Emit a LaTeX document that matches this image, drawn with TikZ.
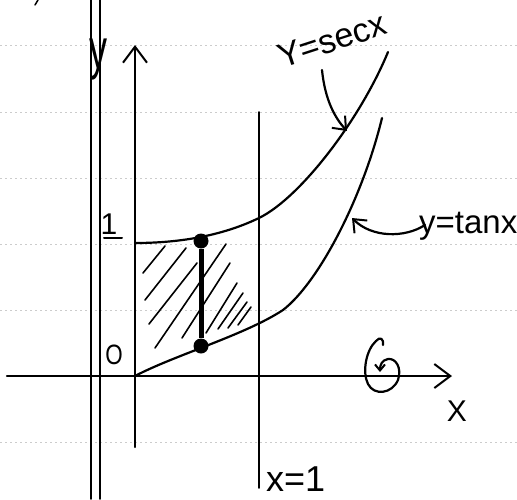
\documentclass[tikz,border=0pt]{standalone}
\usepackage{fontspec}
\setmainfont{Liberation Sans}
\usetikzlibrary{arrows.meta}
\begin{document}
\begin{tikzpicture}[x=1pt,y=-1pt,
  ink/.style={line width=2.2pt, line cap=round, line join=round},
  rule/.style={gray!40, line width=0.7pt, dash pattern=on 2pt off 3pt},
  barb/.style={-{Straight Barb[length=16pt,width=24pt,line width=2pt]}},
  smallbarb/.style={-{Straight Barb[length=11pt,width=18pt,line width=2pt]}},
  hand/.style={font=\fontsize{#1}{#1}\selectfont, inner sep=0pt},
  hatch/.style={line width=1.6pt, line cap=round},
  dot/.style={circle, fill=black, minimum size=15pt, inner sep=0pt}]
\useasboundingbox (0,0) rectangle (517,499);
\fill[white] (0,0) rectangle (517,499);
% notebook rules
\foreach \yy in {45,112,178,244,310,442}
  \draw[rule] (0,\yy) -- (517,\yy);
% margin lines
\draw[ink, line width=1.8pt] (91,0) -- (91,499);
\draw[ink, line width=1.8pt] (100,0) -- (100,499);
\draw[line width=1.5pt, line cap=round] (38,0) -- (35,5);
% axes
\coordinate (ybot) at (135,447);
\coordinate (ytop) at (135,45);
\coordinate (xleft) at (7,376);
\coordinate (xright) at (452,376);
\draw[ink, barb] (ybot) -- (ytop);
\draw[ink, barb] (xleft) -- (xright);
% x = 1
\coordinate (x1top) at (259,112);
\coordinate (x1bot) at (259,488);
\draw[ink, line width=1.8pt] (x1top) -- (x1bot);
% hatching
\draw[hatch] (143,273) -- (165,246);
\draw[hatch] (145,300) -- (186,248);
\draw[hatch] (149,324) -- (197,263);
\draw[hatch] (155,348) -- (226,244);
\draw[hatch] (182,338) -- (230,263);
\draw[hatch] (206,333) -- (237,283);
\draw[hatch] (218,329) -- (243,293);
\draw[hatch] (228,328) -- (247,302);
\draw[hatch] (238,325) -- (251,307);
% curves
\draw[ink] (135,243) .. controls (190,243) and (230,232) .. (259,218)
  .. controls (300,198) and (360,120) .. (388,52);
\draw[ink] (135,376) .. controls (175,355) and (245,335) .. (283,310)
  .. controls (318,283) and (362,200) .. (382,118);
% dots and segment
\node[dot] (P) at (201,241) {};
\node[dot] (Q) at (201,346) {};
\draw[line width=5pt] (P) -- (Q);
% labels
\node[hand=40, xscale=0.9, yscale=1.4] (ylab) at (98,60) {y};
\node[hand=30] (one) at (109,224) {1};
\draw[line width=2pt, line cap=round] (104,238) -- (122,238);
\node[hand=28, xscale=0.8] (olab) at (114,355) {O};
\node[hand=30] (xlab) at (457,411) {X};
\node[hand=36, anchor=base west] (x1lab) at (266,491) {x=1};
\node[hand=34, rotate=18] (seclab) at (332,40) {Y=secx};
\node[hand=33, anchor=base west] (tanlab) at (419,233) {y=tanx};
% pointer arrows
\coordinate (secS) at (322,70);
\coordinate (secE) at (347,131);
\draw[ink, smallbarb] (secS) .. controls (325,100) and (335,118) .. (secE);
\coordinate (tanS) at (425,225);
\coordinate (tanE) at (352,218);
\draw[ink, smallbarb] (tanS) .. controls (405,238) and (372,238) .. (tanE);
% rotation mark
\draw[ink, -{Straight Barb[length=6pt,width=10pt,line width=2pt]}]
  (383,345) .. controls (384,339) and (380,336) .. (376,341)
  .. controls (366,350) and (362,372) .. (368,384)
  .. controls (374,396) and (392,394) .. (398,380)
  .. controls (402,368) and (396,358) .. (388,359)
  .. controls (382,360) and (380,365) .. (380,372);
\end{tikzpicture}
\end{document}
